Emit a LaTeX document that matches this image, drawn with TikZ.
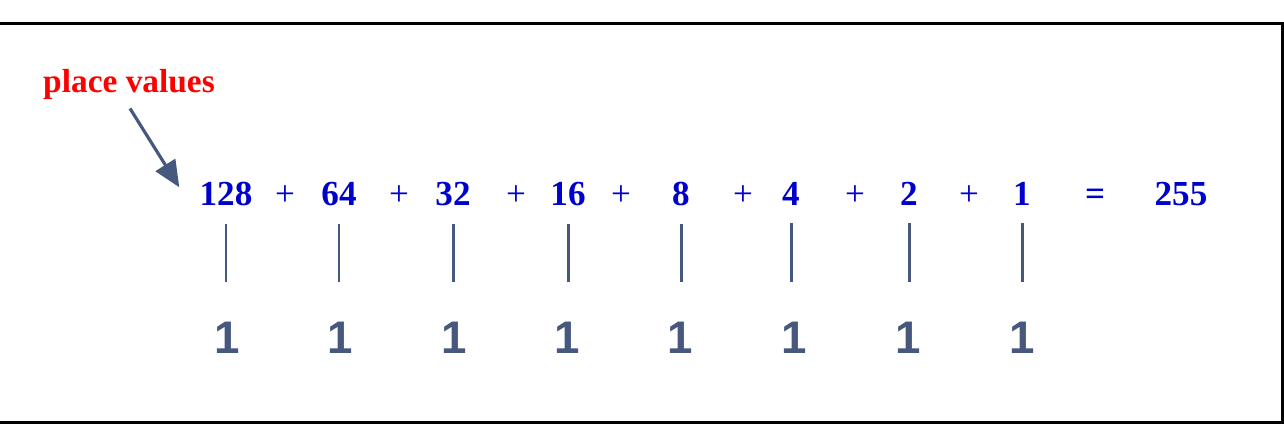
\documentclass[tikz,border=0pt]{standalone}
\usepackage{fontspec}
\setmainfont{Liberation Serif}
\setsansfont{Liberation Sans}
\usetikzlibrary{arrows.meta,positioning}
\definecolor{valblue}{RGB}{0,0,204}
\definecolor{slate}{RGB}{70,88,126}
\tikzset{value/.style={text=valblue, font=\fontsize{20}{24}\selectfont\bfseries, inner sep=0pt, anchor=base},
    plus/.style={value, font=\fontsize{20}{24}\selectfont},
    bit/.style={text=slate, font=\sffamily\fontsize{26}{30}\selectfont\bfseries, inner sep=0pt, anchor=base},
    tick/.style={draw=slate, line width=1.7pt, shorten <=9.6pt, shorten >=23pt},
    pointer/.style={draw=slate, line width=1.8pt, -{Triangle[length=15pt,width=13pt]}},
    frame/.style={draw=black, line width=1.7pt}}

\begin{document}
\begin{tikzpicture}[x=0.02cm, y=-0.02cm]
    \useasboundingbox (0,0) rectangle (1284,438);
    \draw[frame] (-5,24) -- (1282,24) -- (1282,422.5) -- (-5,422.5);
    % place values and their bits
    \foreach \val/\x/\bx [count=\i] in {128/226/227, 64/339/340, 32/453/454, 16/568/567, 8/681/680, 4/791/794, 2/909/908, 1/1022/1022} {
        \node[value] (v\i) at (\x,206) {\val};
        \node[bit] (b\i) at (\bx,354) {1};
        \draw[tick] (v\i.south) -- (v\i.south |- b\i.north);
    }
    \foreach \x [count=\i] in {285,399,516,621,743,855,969}
        \node[plus] (p\i) at (\x,206) {+};
    \node[value] (eq) at (1095,206) {=};
    \node[value] (sum) at (1181,206) {255};
    % label
    \node[text=red, font=\fontsize{19}{23}\selectfont\bfseries, inner sep=0pt, anchor=base] (lbl) at (129,93) {place values};
    \draw[pointer] ([shift={(1,8)}]lbl.south) -- ([shift={(-20,5)}]v1.north west);
\end{tikzpicture}
\end{document}
